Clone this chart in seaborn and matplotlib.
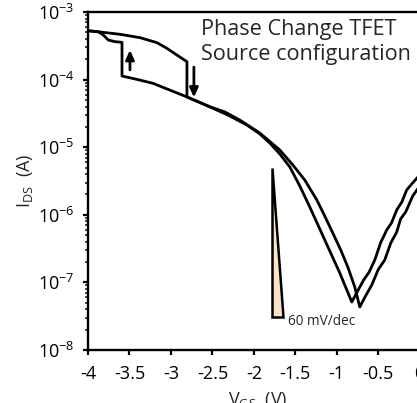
import numpy as np
import pandas as pd
import matplotlib
matplotlib.use("Agg")
import matplotlib.pyplot as plt
from matplotlib.ticker import LogLocator, FixedLocator, FuncFormatter
import seaborn as sns

# Forward sweep: stays in the high state until the abrupt drop near -2.8 V
v_fwd = [-4.000, -3.855, -3.614, -3.373, -3.169, -3.048, -2.928, -2.807,
         -2.807, -2.530, -2.313, -2.084, -1.928, -1.807, -1.687, -1.566,
         -1.446, -1.325, -1.205, -1.084, -0.964, -0.819,
         -0.750, -0.675, -0.610, -0.542, -0.470, -0.398, -0.340, -0.277,
         -0.215, -0.157, -0.096, 0.000]
i_fwd = [5.28e-4, 5.06e-4, 4.68e-4, 4.17e-4, 3.52e-4, 2.90e-4, 2.31e-4, 1.84e-4,
         5.53e-5, 3.94e-5, 2.99e-5, 2.13e-5, 1.57e-5, 1.15e-5, 7.93e-6, 5.09e-6,
         2.67e-6, 1.30e-6, 6.17e-7, 2.91e-7, 1.38e-7, 5.13e-8,
         7.40e-8, 1.09e-7, 1.42e-7, 2.14e-7, 3.90e-7, 5.96e-7, 7.60e-7, 1.18e-6,
         1.55e-6, 2.33e-6, 2.86e-6, 3.88e-6]

# Reverse sweep: low state until the jump back up near -3.6 V
v_rev = [0.000, -0.084, -0.169, -0.230, -0.277, -0.350, -0.422, -0.500,
         -0.578, -0.650, -0.723, -0.783, -0.867, -0.952, -1.048, -1.145,
         -1.241, -1.386, -1.530, -1.687, -1.928, -2.169, -2.349, -2.530,
         -2.811, -3.217, -3.414, -3.590, -3.590, -3.675, -3.755, -3.816,
         -3.876, -4.000]
i_rev = [2.67e-6, 1.90e-6, 1.10e-6, 8.70e-7, 5.57e-7, 3.80e-7, 2.14e-7, 1.55e-7,
         9.16e-8, 6.40e-8, 4.33e-8, 8.55e-8, 1.69e-7, 3.01e-7, 5.38e-7, 9.59e-7,
         1.66e-6, 3.27e-6, 5.46e-6, 9.10e-6, 1.62e-5, 2.52e-5, 3.32e-5, 3.97e-5,
         5.57e-5, 8.81e-5, 1.01e-4, 1.13e-4, 3.56e-4, 3.64e-4, 3.85e-4, 4.57e-4,
         5.11e-4, 5.28e-4]

# 60 mV/dec reference slope triangle (2.2 decades over 132 mV)
tri_v = [-1.783, -1.783, -1.651]
tri_i = [4.90e-6, 3.09e-8, 3.09e-8]

# Switching-direction arrows: (V, tail current, head current)
arrow_up = (-3.494, 1.39e-4, 2.74e-4)
arrow_down = (-2.723, 1.53e-4, 5.45e-5)

x_ticks = [-4, -3.5, -3, -2.5, -2, -1.5, -1, -0.5, 0]
x_tick_labels = ["-4", "-3.5", "-3", "-2.5", "-2", "-1.5", "-1", "-0.5", "0"]
y_ticks = [1e-8, 1e-7, 1e-6, 1e-5, 1e-4, 1e-3]

sns.set_style("ticks")
plt.rcParams["font.family"] = ["Open Sans", "DejaVu Sans"]
plt.rcParams["mathtext.fontset"] = "custom"
plt.rcParams["mathtext.rm"] = "Open Sans"
plt.rcParams["mathtext.it"] = "Open Sans"
plt.rcParams["mathtext.default"] = "regular"
plt.rcParams["axes.unicode_minus"] = False

df = pd.DataFrame({
    "V": v_fwd + v_rev,
    "I": i_fwd + i_rev,
    "sweep": ["forward"] * len(v_fwd) + ["reverse"] * len(v_rev),
})

fig = plt.figure(figsize=(4.17, 4.03), dpi=100)
ax = fig.add_axes([88 / 417, 53 / 403, 340 / 417, 338 / 403])

sns.lineplot(data=df, x="V", y="I", units="sweep", estimator=None, sort=False,
             color="black", lw=2.0, ax=ax, legend=False)

ax.set_yscale("log")
ax.set_xlim(-4, 0.1)
ax.set_ylim(1e-8, 1e-3)

ax.fill(tri_v, tri_i, facecolor="#FCE3C6", edgecolor="black", lw=1.8,
        joinstyle="miter", zorder=3)
ax.text(-1.59, 2.6e-8, "60 mV/dec", fontsize=9.8, ha="left", va="center")

for v, i0, i1 in (arrow_up, arrow_down):
    ax.annotate("", xy=(v, i1), xytext=(v, i0),
                arrowprops=dict(arrowstyle="-|>,head_length=0.55,head_width=0.25",
                                color="black", lw=2.0, shrinkA=0, shrinkB=0))

ax.text(0.332, 0.978, "Phase Change TFET\nSource configuration",
        transform=ax.transAxes, fontsize=15.6, ha="left", va="top",
        linespacing=1.22)

ax.xaxis.set_major_locator(FixedLocator(x_ticks))
ax.set_xticklabels(x_tick_labels)
ax.yaxis.set_major_locator(FixedLocator(y_ticks))
ax.yaxis.set_major_formatter(FuncFormatter(lambda y, _: r"$10^{%d}$" % round(np.log10(y))))
ax.yaxis.set_minor_locator(LogLocator(base=10, subs=np.arange(2, 10), numticks=20))

ax.tick_params(axis="both", which="major", direction="out", length=3.5, width=1.6,
               labelsize=13, color="black", labelcolor="black")
ax.tick_params(axis="x", pad=7)
ax.tick_params(axis="y", pad=6)
ax.tick_params(axis="y", which="minor", direction="out", length=2, width=1.2)
ax.tick_params(axis="x", which="minor", length=0)

for side in ("left", "bottom", "top", "right"):
    ax.spines[side].set_linewidth(1.7)
    ax.spines[side].set_color("black")

ax.set_xlabel(r"$V_{GS}$  (V)", fontsize=13, labelpad=5)
ax.set_ylabel(r"$I_{DS}$  (A)", fontsize=13, labelpad=2)

fig.savefig("out.png", dpi=100)
